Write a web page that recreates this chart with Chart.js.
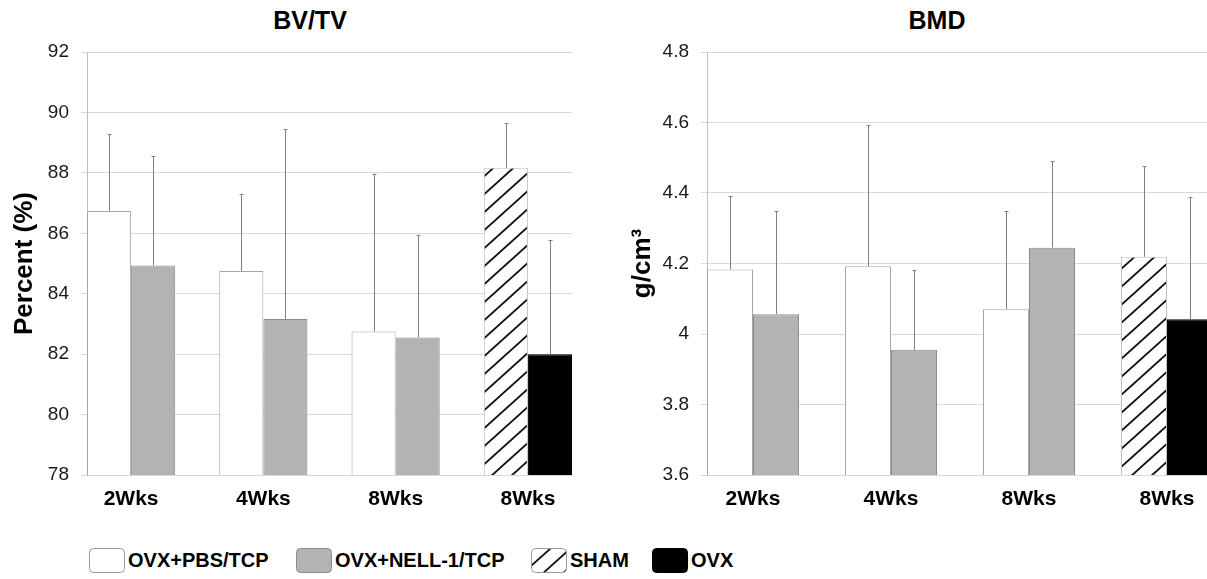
<!DOCTYPE html>
<html>
<head>
<meta charset="utf-8">
<title>BV/TV and BMD</title>
<script src="https://cdn.jsdelivr.net/npm/chart.js@4.4.1/dist/chart.umd.min.js"></script>
<style>
  body {
    margin: 0;
    width: 1207px;
    height: 579px;
    overflow: hidden;
    background: #fff;
    position: relative;
    font-family: "Liberation Sans", Arial, sans-serif;
  }
  .panel { position: absolute; top: 0; height: 520px; }
  #leftPanel { left: 0; width: 600px; }
  #rightPanel { left: 600px; width: 613px; }
  .title {
    position: absolute;
    top: 8px;
    font-size: 25px;
    line-height: 25px;
    font-weight: bold;
    transform: translateX(-50%);
    white-space: nowrap;
  }
  .legend-item {
    position: absolute;
    top: 548px;
    display: flex;
    align-items: center;
    white-space: nowrap;
  }
  .legend-item span { margin-left: 3px; font-size: 20px; font-weight: bold; color: #000; }
</style>
</head>
<body>
<div class="title" style="left:310px">BV/TV</div>
<div class="title" style="left:937px">BMD</div>
<div class="panel" id="leftPanel"><canvas id="bvtv"></canvas></div>
<div class="panel" id="rightPanel"><canvas id="bmd"></canvas></div>
<div id="legend"></div>

<script>
const FONT = '"Liberation Sans", Arial, sans-serif';

const xLabels = ["2Wks", "4Wks", "8Wks", "8Wks"];
const legendLabels = ["OVX+PBS/TCP", "OVX+NELL-1/TCP", "SHAM", "OVX"];

// BV/TV (%) - means and upper SD
const bvtvPbs = [86.74, 84.75, 82.75];
const bvtvPbsSd = [2.56, 2.56, 5.20];
const bvtvNell = [84.93, 83.16, 82.55];
const bvtvNellSd = [3.63, 6.30, 3.40];
const bvtvSham = [88.17];
const bvtvShamSd = [1.48];
const bvtvOvx = [82.00];
const bvtvOvxSd = [3.78];

// BMD (g/cm3)
const bmdPbs = [4.183, 4.192, 4.070];
const bmdPbsSd = [0.209, 0.401, 0.280];
const bmdNell = [4.056, 3.955, 4.245];
const bmdNellSd = [0.292, 0.227, 0.247];
const bmdSham = [4.219];
const bmdShamSd = [0.258];
const bmdOvx = [4.042];
const bmdOvxSd = [0.348];

// diagonal hatch used for SHAM
function makeHatch() {
    const w = 20, h = 18;
    const c = document.createElement("canvas");
    c.width = w;
    c.height = h;
    const g = c.getContext("2d");
    g.fillStyle = "#fff";
    g.fillRect(0, 0, w, h);
    g.strokeStyle = "#111";
    g.lineWidth = 1.8;
    for (let k = 0; k <= 2; k++) {
        g.beginPath();
        g.moveTo(-w, h * (k + 1));
        g.lineTo(2 * w, h * (k - 2));
        g.stroke();
    }
    return c;
}
const hatchCanvas = makeHatch();
const hatch = document.createElement("canvas").getContext("2d").createPattern(hatchCanvas, "repeat");

const errorBars = {
    id: "errorBars",
    afterDatasetsDraw(chart) {
        const ctx = chart.ctx;
        const yScale = chart.scales.y;
        ctx.save();
        ctx.strokeStyle = "#808080";
        ctx.lineWidth = 1;
        chart.data.datasets.forEach((ds, i) => {
            chart.getDatasetMeta(i).data.forEach((bar, j) => {
                const top = Math.round(yScale.getPixelForValue(ds.data[j].y + ds.errors[j])) + 0.5;
                const x = Math.round(bar.x) + 0.5;
                ctx.beginPath();
                ctx.moveTo(x, bar.y);
                ctx.lineTo(x, top);
                ctx.moveTo(x - 2, top);
                ctx.lineTo(x + 2, top);
                ctx.stroke();
            });
        });
        ctx.restore();
    }
};

function toPoints(values) {
    return values.map((v, i) => ({ x: i, y: v }));
}

function makeChart(id, cfg) {
    const first = cfg.pbs.concat(cfg.sham);
    const second = cfg.nell.concat(cfg.ovx);
    return new Chart(document.getElementById(id), {
        type: "bar",
        data: {
            datasets: [
                {
                    data: toPoints(first),
                    errors: cfg.pbsSd.concat(cfg.shamSd),
                    backgroundColor: ["#fff", "#fff", "#fff", hatch],
                    borderColor: ["#a6a6a6", "#a6a6a6", "#a6a6a6", "#bfbfbf"],
                    borderWidth: 1,
                    categoryPercentage: 2 / 3,
                    barPercentage: 1
                },
                {
                    data: toPoints(second),
                    errors: cfg.nellSd.concat(cfg.ovxSd),
                    backgroundColor: ["#b3b3b3", "#b3b3b3", "#b3b3b3", "#000"],
                    borderColor: ["#8c8c8c", "#8c8c8c", "#8c8c8c", "#000"],
                    borderWidth: 1,
                    categoryPercentage: 2 / 3,
                    barPercentage: 1
                }
            ]
        },
        options: {
            responsive: true,
            maintainAspectRatio: false,
            animation: false,
            layout: { padding: { top: 52, right: cfg.padRight, left: 0, bottom: 0 } },
            plugins: {
                legend: { display: false },
                tooltip: { enabled: false },
                title: { display: false }
            },
            scales: {
                x: {
                    type: "linear",
                    offset: false,
                    min: -1 / 3,
                    max: 10 / 3,
                    grid: { display: false, drawTicks: false },
                    border: { display: false },
                    afterBuildTicks: (s) => { s.ticks = xLabels.map((_, i) => ({ value: i })); },
                    afterFit: (s) => { s.height = 45; },
                    ticks: {
                        callback: (v) => xLabels[v],
                        autoSkip: false,
                        maxRotation: 0,
                        padding: 12,
                        color: "#000",
                        font: { family: FONT, size: 21, weight: "bold" }
                    }
                },
                y: {
                    min: cfg.min,
                    max: cfg.max,
                    afterFit: (s) => { s.width = cfg.axisWidth; },
                    grid: { color: "#d9d9d9", tickLength: 6 },
                    border: { color: "#bfbfbf" },
                    ticks: {
                        stepSize: cfg.step,
                        padding: 12,
                        color: "#1a1a1a",
                        font: { family: FONT, size: 19 },
                        callback: (v) => String(Math.round(v * 10) / 10)
                    },
                    title: {
                        display: true,
                        text: cfg.yTitle,
                        color: "#000",
                        padding: { top: cfg.titlePad, bottom: 0 },
                        font: { family: FONT, size: 26, weight: "bold" }
                    }
                }
            }
        },
        plugins: [errorBars]
    });
}

makeChart("bvtv", {
    pbs: bvtvPbs, pbsSd: bvtvPbsSd, nell: bvtvNell, nellSd: bvtvNellSd,
    sham: bvtvSham, shamSd: bvtvShamSd, ovx: bvtvOvx, ovxSd: bvtvOvxSd,
    min: 78, max: 92, step: 2, yTitle: "Percent (%)",
    axisWidth: 87, padRight: 28, titlePad: 9
});

makeChart("bmd", {
    pbs: bmdPbs, pbsSd: bmdPbsSd, nell: bmdNell, nellSd: bmdNellSd,
    sham: bmdSham, shamSd: bmdShamSd, ovx: bmdOvx, ovxSd: bmdOvxSd,
    min: 3.6, max: 4.8, step: 0.2, yTitle: "g/cm³",
    axisWidth: 107, padRight: 0, titlePad: 27
});

// shared legend below both panels
const swatches = [
    { fill: "#fff", stroke: "#999" },
    { fill: "#b3b3b3", stroke: "#8c8c8c" },
    { fill: "hatch", stroke: "#999" },
    { fill: "#000", stroke: "#000" }
];
const legendLeft = [89, 296, 531, 652];
const legend = document.getElementById("legend");
legendLabels.forEach((label, i) => {
    const item = document.createElement("div");
    item.className = "legend-item";
    item.style.left = legendLeft[i] + "px";
    const cv = document.createElement("canvas");
    cv.width = 36;
    cv.height = 25;
    const g = cv.getContext("2d");
    g.beginPath();
    g.roundRect(0.5, 0.5, 35, 24, 4);
    g.fillStyle = swatches[i].fill === "hatch" ? g.createPattern(hatchCanvas, "repeat") : swatches[i].fill;
    g.fill();
    g.strokeStyle = swatches[i].stroke;
    g.lineWidth = 1;
    g.stroke();
    const span = document.createElement("span");
    span.textContent = label;
    item.appendChild(cv);
    item.appendChild(span);
    legend.appendChild(item);
});
</script>
</body>
</html>
